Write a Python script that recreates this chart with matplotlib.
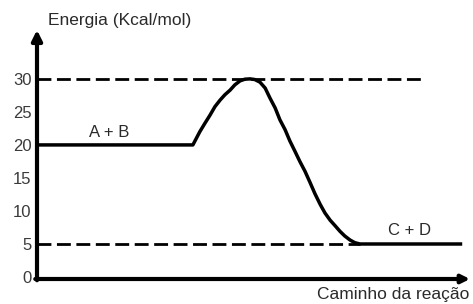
import matplotlib
matplotlib.use("Agg")
import matplotlib.pyplot as plt

# Reaction path (arbitrary units 0-100) and energy (kcal/mol)
path = [0, 36.0, 37.6, 38.8, 39.95, 41.1, 42.3, 43.4, 44.6, 45.7, 46.9, 48.0,
        49.2, 50.3, 51.5, 52.7, 53.8, 55.0, 56.1, 57.3, 58.4, 59.6, 60.7,
        61.9, 63.0, 64.2, 65.4, 66.5, 67.7, 68.8, 70.0, 71.1, 72.3, 73.4,
        74.6, 98.2]
energy = [20, 20, 22.0, 23.3, 24.5, 25.8, 26.8, 27.6, 28.3, 29.1, 29.7, 29.95,
          30.0, 29.9, 29.5, 28.6, 27.1, 25.6, 23.8, 22.3, 20.6, 19.0, 17.5,
          16.0, 14.4, 12.6, 11.0, 9.7, 8.6, 7.8, 6.9, 6.2, 5.6, 5.2,
          5.0, 5.0]

yticks = [0, 5, 10, 15, 20, 25, 30]
ref_levels = [30, 5]
ref_ends = [89.6, 74.6]
labels = ["A + B", "C + D"]
label_pos = [(16.6, 21.9), (86.1, 7.1)]

plt.rcParams['font.family'] = ['Liberation Sans', 'DejaVu Sans']

fig = plt.figure(figsize=(4.73, 3.04), dpi=100)
ax = fig.add_axes([37/473, 1-279/304, (470-37)/473, (279-30)/304])
ax.set_xlim(0, 100)
ax.set_ylim(-0.3, 37.4)
for s in ax.spines.values():
    s.set_visible(False)

for lvl, end in zip(ref_levels, ref_ends):
    ax.plot([0, end], [lvl, lvl], color='black', lw=2.0, dashes=(5, 2),
            solid_capstyle='butt')

ax.plot(path, energy, color='black', lw=2.5, solid_joinstyle='round',
        solid_capstyle='butt')

for t, (x, y) in zip(labels, label_pos):
    ax.text(x, y, t, ha='center', va='center', fontsize=12, color='#2a2a2a')

# axes arrows
ax.annotate('', xy=(0, 1), xytext=(0, -0.005), xycoords='axes fraction',
            arrowprops=dict(arrowstyle='-|>', lw=3.0, color='black',
                            mutation_scale=15, shrinkA=0, shrinkB=0))
ax.annotate('', xy=(1, 0), xytext=(-0.004, 0), xycoords='axes fraction',
            arrowprops=dict(arrowstyle='-|>', lw=3.0, color='black',
                            mutation_scale=12, shrinkA=0, shrinkB=0))

ax.set_xticks([])
ax.set_yticks(yticks)
ax.set_yticklabels([str(v) for v in yticks], fontsize=12, color='#3a3a3a')
ax.tick_params(axis='y', length=0, pad=4)

fig.text(48/473, 1-20/304, "Energia (Kcal/mol)", ha='left', va='center',
         fontsize=12.5, color='#2a2a2a')
fig.text(469/473, 1-295/304, "Caminho da reação", ha='right', va='center',
         fontsize=12.5, color='#2a2a2a')

fig.savefig("out.png", dpi=100)
